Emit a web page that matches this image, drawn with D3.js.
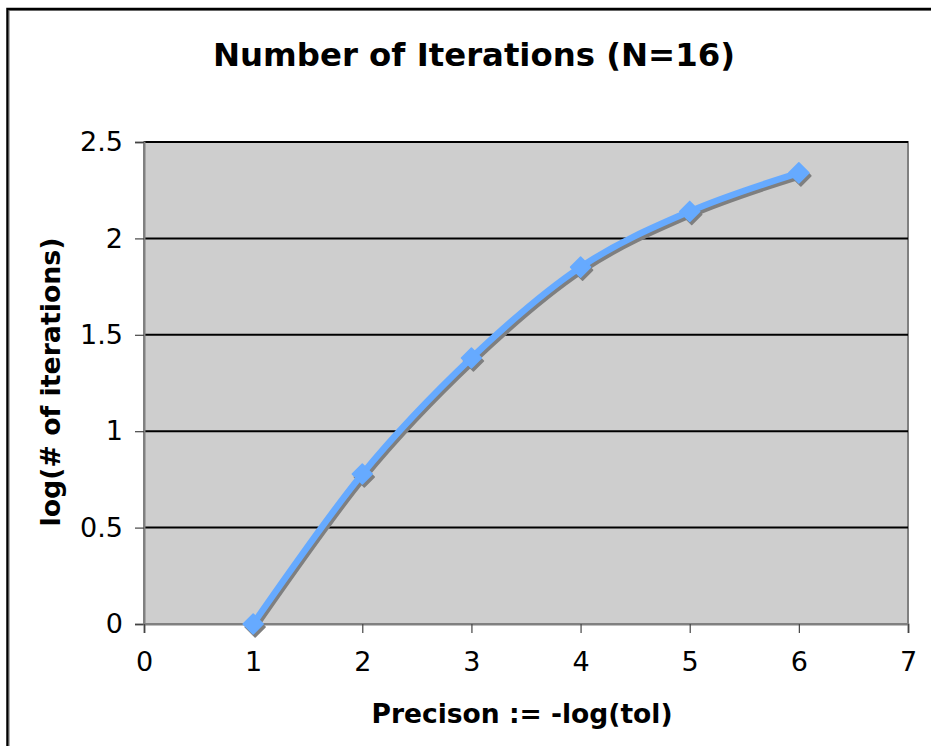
<!DOCTYPE html>
<html>
<head>
<meta charset="utf-8">
<script src="https://cdn.jsdelivr.net/npm/d3@7"></script>
<style>
  html, body { margin: 0; padding: 0; background: #fff; }
  svg { display: block; }
  text { font-family: "DejaVu Sans", Verdana, sans-serif; fill: #000; }
</style>
</head>
<body>
<svg id="chart" width="931" height="746"></svg>
<script>
// Precision levels (-log tol) and log10 of the iteration counts
const precision = [1, 2, 3, 4, 5, 6];
const logIterations = [0, 0.778, 1.380, 1.851, 2.140, 2.340];
const xTicks = [0, 1, 2, 3, 4, 5, 6, 7];
const yTicks = [0, 0.5, 1, 1.5, 2, 2.5];

const svg = d3.select("#chart");
const plot = { left: 144, top: 142, right: 908, bottom: 624 };

const x = d3.scaleLinear().domain([0, 7]).range([plot.left, plot.right]);
const y = d3.scaleLinear().domain([0, 2.5]).range([plot.bottom, plot.top]);

// Outer chart frame (runs off the right and bottom edges)
svg.append("rect").attr("x", 7.5).attr("y", 9).attr("width", 960).attr("height", 780)
  .attr("fill", "none").attr("stroke", "#000").attr("stroke-width", 2.5);
svg.append("rect").attr("x", 9).attr("y", 10.5).attr("width", 960).attr("height", 780)
  .attr("fill", "none").attr("stroke", "#666").attr("stroke-width", 1);

// Title
svg.append("text").attr("x", 474).attr("y", 66).attr("text-anchor", "middle")
  .attr("font-size", 32).attr("font-weight", "bold")
  .attr("textLength", 522).attr("lengthAdjust", "spacingAndGlyphs")
  .text("Number of Iterations (N=16)");

// Plot area background
svg.append("rect").attr("x", plot.left).attr("y", plot.top)
  .attr("width", plot.right - plot.left).attr("height", plot.bottom - plot.top)
  .attr("fill", "#cecece").attr("stroke", "#808080").attr("stroke-width", 2);

// Horizontal gridlines
svg.append("g").selectAll("line").data(yTicks.filter(d => d > 0)).join("line")
  .attr("x1", plot.left).attr("x2", plot.right)
  .attr("y1", d => y(d)).attr("y2", d => y(d))
  .attr("stroke", "#000").attr("stroke-width", 2);

// Axes
const yAxis = d3.axisLeft(y).tickValues(yTicks).tickSize(9).tickPadding(12)
  .tickFormat(d => String(d));
const gy = svg.append("g").attr("transform", `translate(${plot.left},0)`).call(yAxis);
gy.select(".domain").attr("stroke", "#808080").attr("stroke-width", 2);
gy.selectAll(".tick line").attr("stroke", "#444").attr("stroke-width", 1.2);
gy.selectAll(".tick text").attr("font-size", 27).attr("font-family", "DejaVu Sans, sans-serif")
  .attr("fill", "#000");

const xAxis = d3.axisBottom(x).tickValues(xTicks).tickSize(9).tickPadding(19)
  .tickFormat(d3.format("d"));
const gx = svg.append("g").attr("transform", `translate(0,${plot.bottom})`).call(xAxis);
gx.select(".domain").attr("stroke", "#808080").attr("stroke-width", 2);
gx.selectAll(".tick line").attr("stroke", "#444").attr("stroke-width", 1.2);
gx.selectAll(".tick text").attr("font-size", 27).attr("font-family", "DejaVu Sans, sans-serif")
  .attr("fill", "#000");

// Axis titles
svg.append("text").attr("x", 522).attr("y", 723).attr("text-anchor", "middle")
  .attr("font-size", 27).attr("font-weight", "bold")
  .attr("textLength", 301).attr("lengthAdjust", "spacingAndGlyphs")
  .text("Precison := -log(tol)");
svg.append("text")
  .attr("transform", "translate(60,382) rotate(-90)")
  .attr("text-anchor", "middle").attr("font-size", 27).attr("font-weight", "bold")
  .attr("textLength", 289).attr("lengthAdjust", "spacingAndGlyphs")
  .text("log(# of iterations)");

// Data series: smoothed line with diamond markers and a drop shadow
const pts = precision.map((p, i) => [p, logIterations[i]]);
const line = d3.line().x(d => x(d[0])).y(d => y(d[1])).curve(d3.curveCatmullRom.alpha(0));
const diamond = d3.symbol().type(d3.symbolSquare).size(200);

function drawSeries(g, color) {
  g.append("path").datum(pts).attr("d", line).attr("fill", "none")
    .attr("stroke", color).attr("stroke-width", 6.5).attr("stroke-linejoin", "round");
  g.selectAll("path.mk").data(pts).join("path").attr("class", "mk")
    .attr("d", diamond)
    .attr("transform", d => `translate(${x(d[0])},${y(d[1])}) rotate(45)`)
    .attr("fill", color).attr("stroke", color).attr("stroke-width", 1.5)
    .attr("stroke-linejoin", "round");
}
drawSeries(svg.append("g").attr("transform", "translate(2,3)"), "#7f7f7f");
drawSeries(svg.append("g"), "#66aaff");
</script>
</body>
</html>
